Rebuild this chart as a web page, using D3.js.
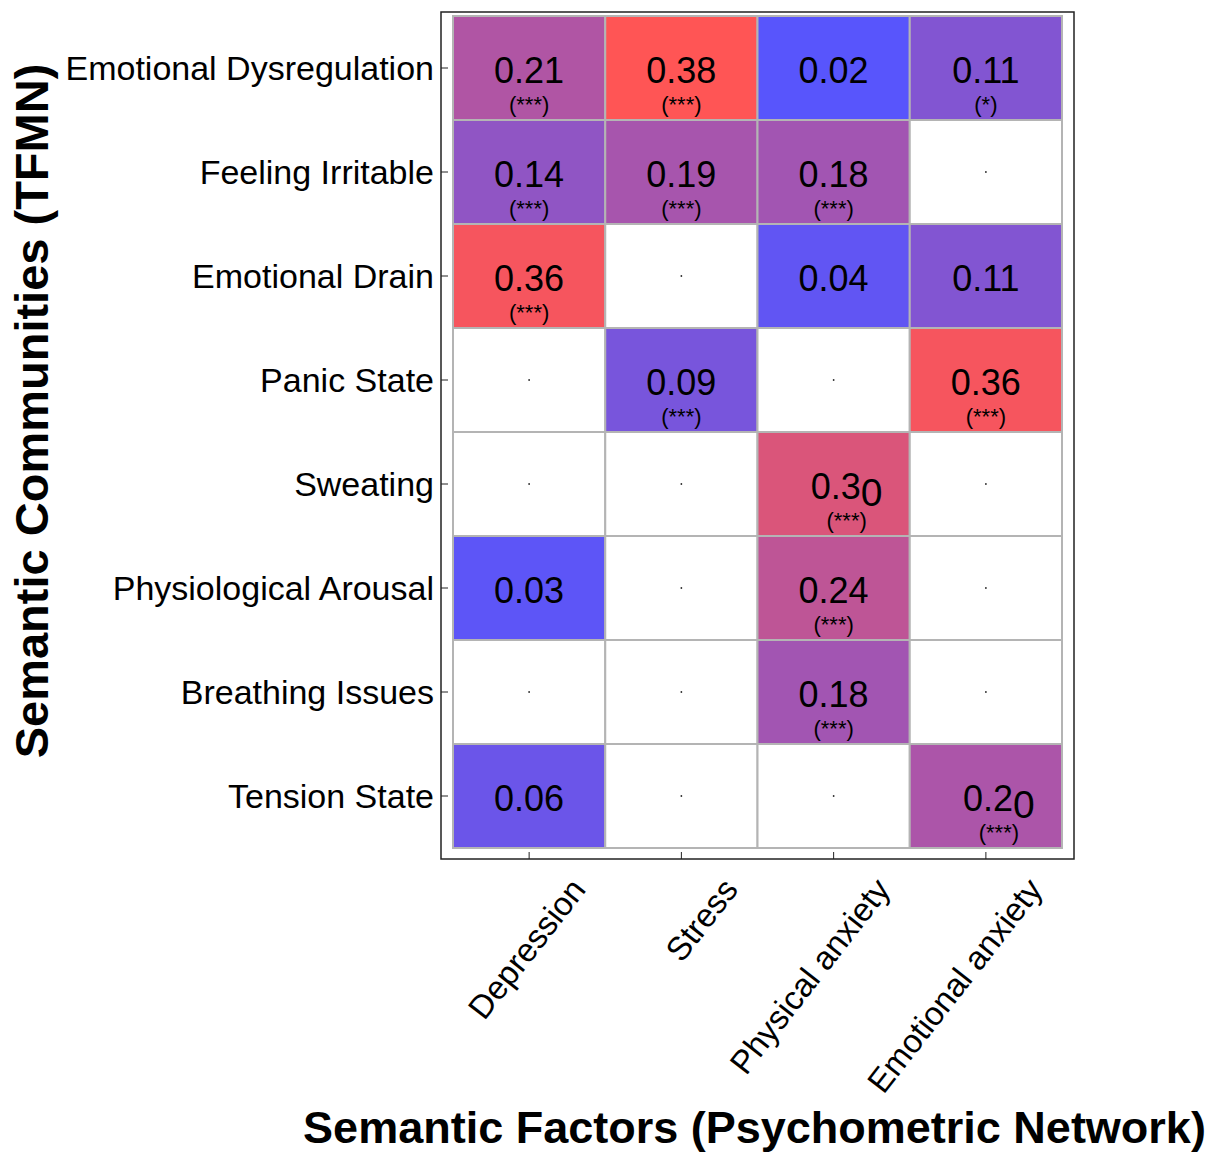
<!DOCTYPE html>
<html>
<head>
<meta charset="utf-8">
<script src="https://cdn.jsdelivr.net/npm/d3@7"></script>
<style>
    body { margin: 0; background: #fff; }
    text { font-family: "Liberation Sans", Arial, Helvetica, sans-serif; }
</style>
</head>
<body>
<svg id="heat_svg"></svg>
<script>
let communities = ["Emotional Dysregulation", "Feeling Irritable", "Emotional Drain", "Panic State",
    "Sweating", "Physiological Arousal", "Breathing Issues", "Tension State"];
let factors = ["Depression", "Stress", "Physical anxiety", "Emotional anxiety"];

// one list per factor, in community order (null = no link)
let depressionVals = [0.21, 0.14, 0.36, null, null, 0.03, null, 0.06];
let stressVals     = [0.38, 0.19, null, 0.09, null, null, null, null];
let physicalVals   = [0.02, 0.18, 0.04, null, 0.30, 0.24, 0.18, null];
let emotionalVals  = [0.11, null, 0.11, 0.36, null, null, null, 0.20];

let depressionSig = ["***", "***", "***", "", "", "", "", ""];
let stressSig     = ["***", "***", "", "***", "", "", "", ""];
let physicalSig   = ["", "***", "", "", "***", "***", "***", ""];
let emotionalSig  = ["*", "", "", "***", "", "", "", "***"];

let xTitle = "Semantic Factors (Psychometric Network)";
let yTitle = "Semantic Communities (TFMN)";

let allVals = [depressionVals, stressVals, physicalVals, emotionalVals];
let allSig = [depressionSig, stressSig, physicalSig, emotionalSig];

let cells = [];
factors.forEach(function(f, j){
    communities.forEach(function(c, i){
        cells.push({factor: f, community: c, value: allVals[j][i], sig: allSig[j][i]});
    });
});

let width = 1209,
    height = 1153,
    frame = {left: 441, right: 1074, top: 12, bottom: 859},
    svg = d3.select("#heat_svg").attr("width", width).attr("height", height),
    xScale = d3.scaleBand(factors, [453, 1062]),
    yScale = d3.scaleBand(communities, [16, 848]),
    vals = cells.filter(d => d.value != null).map(d => d.value),
    color = d3.scaleLinear(d3.extent(vals), ["#5855fc", "#ff5555"]),
    fmt = d3.format(".2f");

// frame
svg.append("rect")
    .attr("x", frame.left).attr("y", frame.top)
    .attr("width", frame.right - frame.left).attr("height", frame.bottom - frame.top)
    .attr("fill", "none").attr("stroke", "#222").attr("stroke-width", 1.5);

let g = svg.append("g");

g.selectAll(".cell")
    .data(cells)
    .enter()
    .append("rect")
    .attr("class", "cell")
    .attr("x", d => xScale(d.factor))
    .attr("y", d => yScale(d.community))
    .attr("width", xScale.bandwidth())
    .attr("height", yScale.bandwidth())
    .attr("fill", d => d.value == null ? "#fff" : color(d.value))
    .attr("stroke", "#b4b4b4")
    .attr("stroke-width", 2);

// little dot in the empty cells
g.selectAll(".dot")
    .data(cells.filter(d => d.value == null))
    .enter()
    .append("rect")
    .attr("class", "dot")
    .attr("x", d => xScale(d.factor) + xScale.bandwidth() / 2 - 0.75)
    .attr("y", d => yScale(d.community) + yScale.bandwidth() / 2 - 0.75)
    .attr("width", 1.5).attr("height", 1.5)
    .attr("fill", "#000");

let filled = cells.filter(d => d.value != null);
// labels ending in 0 come out with a dropped, larger trailing zero, shifted right
let shift = d => fmt(d.value).endsWith("0") ? 13 : 0;

let valText = g.selectAll(".val")
    .data(filled)
    .enter()
    .append("text")
    .attr("class", "val")
    .attr("x", d => xScale(d.factor) + xScale.bandwidth() / 2 + shift(d))
    .attr("y", d => yScale(d.community) + yScale.bandwidth() / 2 + 15)
    .attr("text-anchor", "middle")
    .attr("font-size", 36)
    .attr("fill", "#000");
valText.each(function(d){
    let s = fmt(d.value), t = d3.select(this);
    if (s.endsWith("0")) {
        t.append("tspan").text(s.slice(0, -1));
        t.append("tspan").attr("dy", 7).attr("font-size", 39).text("0");
    } else {
        t.text(s);
    }
});

g.selectAll(".sig")
    .data(filled.filter(d => d.sig !== ""))
    .enter()
    .append("text")
    .attr("class", "sig")
    .attr("x", d => xScale(d.factor) + xScale.bandwidth() / 2 + shift(d))
    .attr("y", d => yScale(d.community) + yScale.bandwidth() / 2 + 44)
    .attr("text-anchor", "middle")
    .attr("font-size", 22)
    .text(d => "(" + d.sig + ")");

// y axis
let yAxis = svg.append("g").attr("class", "yAxis");
yAxis.selectAll("line")
    .data(communities)
    .enter()
    .append("line")
    .attr("x1", frame.left).attr("x2", frame.left + 7)
    .attr("y1", d => yScale(d) + yScale.bandwidth() / 2)
    .attr("y2", d => yScale(d) + yScale.bandwidth() / 2)
    .attr("stroke", "#222").attr("stroke-width", 1);
yAxis.selectAll("text")
    .data(communities)
    .enter()
    .append("text")
    .attr("x", frame.left - 7)
    .attr("y", d => yScale(d) + yScale.bandwidth() / 2 + 12)
    .attr("text-anchor", "end")
    .attr("font-size", 34)
    .text(d => d);

// x axis
let xAxis = svg.append("g").attr("class", "xAxis");
xAxis.selectAll("line")
    .data(factors)
    .enter()
    .append("line")
    .attr("x1", d => xScale(d) + xScale.bandwidth() / 2)
    .attr("x2", d => xScale(d) + xScale.bandwidth() / 2)
    .attr("y1", frame.bottom).attr("y2", frame.bottom - 7)
    .attr("stroke", "#222").attr("stroke-width", 1);
xAxis.selectAll("text")
    .data(factors)
    .enter()
    .append("text")
    .attr("transform", d => "translate(" + (xScale(d) + xScale.bandwidth() / 2 + 58) + "," + (frame.bottom + 31) + ") rotate(-52)")
    .attr("text-anchor", "end")
    .attr("font-size", 33)
    .text(d => d);

// titles
svg.append("text")
    .attr("x", (frame.left + frame.right) / 2 - 3)
    .attr("y", 1143)
    .attr("text-anchor", "middle")
    .attr("font-size", 45)
    .attr("font-weight", "bold")
    .text(xTitle);
svg.append("text")
    .attr("transform", "translate(48,411) rotate(-90)")
    .attr("text-anchor", "middle")
    .attr("font-size", 47)
    .attr("font-weight", "bold")
    .text(yTitle);
</script>
</body>
</html>
